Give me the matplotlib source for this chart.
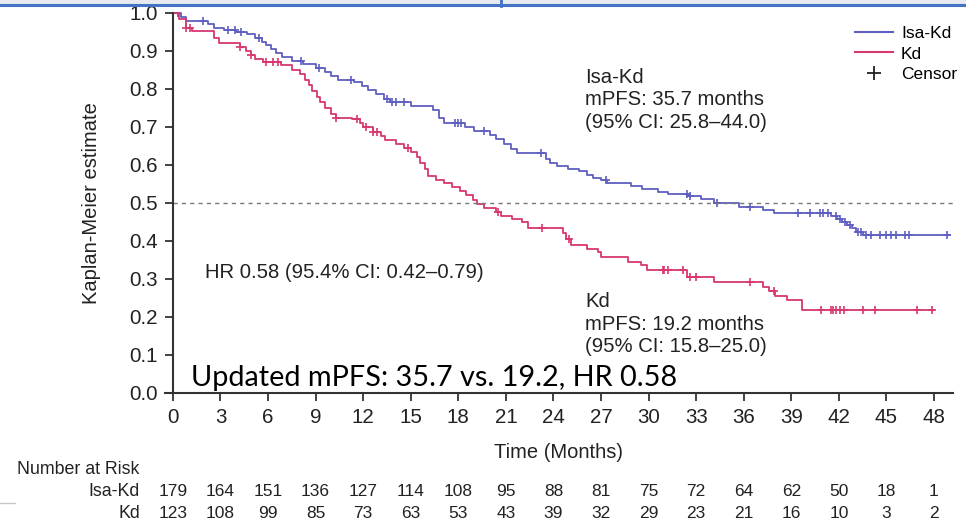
import numpy as np
import matplotlib.pyplot as plt
from matplotlib.lines import Line2D
import matplotlib.transforms as mtransforms

plt.rcParams['font.family'] = ['Liberation Sans', 'DejaVu Sans']

# Isa-Kd: step times (months) and KM estimate after each step
isa_t = [0, 0.5, 0.8, 2.2, 2.6, 3.2, 4.0, 4.7, 5.2, 5.6, 5.9, 6.2, 6.5, 6.9, 7.5, 8.2,
         9.0, 9.6, 10.0, 10.4, 11.4, 11.9, 12.3, 12.8, 13.3, 13.7, 15.0, 16.4, 16.8,
         17.1, 18.4, 19.0, 20.0, 20.4, 20.9, 21.3, 21.7, 23.5, 23.8, 24.2, 24.9, 25.6,
         26.1, 26.5, 27.0, 27.4, 28.9, 29.6, 30.6, 31.2, 32.5, 33.3, 34.1, 35.7, 37.2,
         37.9, 41.5, 41.9, 42.2, 42.5, 42.8, 43.1, 43.5]
isa_s = [1.0, 0.99, 0.98, 0.97, 0.96, 0.955, 0.95, 0.945, 0.935, 0.925, 0.915, 0.905,
         0.895, 0.885, 0.875, 0.865, 0.855, 0.845, 0.835, 0.825, 0.818, 0.808, 0.798,
         0.788, 0.775, 0.765, 0.755, 0.745, 0.725, 0.71, 0.70, 0.69, 0.68, 0.668, 0.655,
         0.643, 0.632, 0.617, 0.605, 0.597, 0.59, 0.584, 0.575, 0.567, 0.56, 0.553, 0.545,
         0.536, 0.53, 0.525, 0.518, 0.51, 0.50, 0.49, 0.482, 0.473, 0.465, 0.458, 0.45,
         0.442, 0.434, 0.425, 0.415]
isa_end = 49.0
isa_cens = [0.3, 1.9, 3.5, 3.9, 4.3, 5.4, 8.1, 9.2, 11.2, 13.5, 13.8, 14.1, 14.6, 17.8,
            18.0, 18.2, 19.6, 23.2, 27.3, 32.4, 32.6, 34.3, 36.4, 39.4, 40.2, 40.8, 41.0,
            41.3, 41.8, 42.1, 42.4, 42.7, 43.2, 43.4, 43.7, 44.0, 44.6, 45.0, 45.3, 45.6,
            46.2, 46.4, 48.8]

# Kd
kd_t = [0, 0.4, 0.8, 1.2, 2.6, 2.9, 4.2, 4.6, 4.9, 5.2, 5.7, 6.8, 7.5, 8.0, 8.3, 8.6,
        8.8, 9.1, 9.3, 9.6, 10.0, 10.3, 11.3, 11.8, 12.0, 12.6, 13.1, 13.4, 14.1, 14.6,
        15.0, 15.4, 15.6, 15.9, 16.1, 16.6, 17.1, 17.6, 18.1, 18.5, 18.9, 19.2, 19.6,
        20.4, 20.7, 21.4, 22.0, 22.4, 24.6, 24.8, 25.1, 26.1, 26.8, 27.0, 28.7, 29.5,
        29.9, 32.4, 34.1, 37.2, 37.6, 38.0, 38.7, 39.7]
kd_s = [1.0, 0.985, 0.96, 0.952, 0.935, 0.92, 0.91, 0.9, 0.89, 0.88, 0.87, 0.862, 0.85,
        0.84, 0.825, 0.81, 0.795, 0.78, 0.765, 0.75, 0.735, 0.725, 0.72, 0.71, 0.70,
        0.688, 0.676, 0.665, 0.655, 0.645, 0.635, 0.622, 0.605, 0.59, 0.572, 0.56, 0.552,
        0.542, 0.532, 0.52, 0.508, 0.497, 0.487, 0.477, 0.465, 0.458, 0.45, 0.435, 0.42,
        0.405, 0.39, 0.38, 0.37, 0.358, 0.345, 0.338, 0.324, 0.305, 0.292, 0.28, 0.268,
        0.255, 0.245, 0.218]
kd_end = 48.0
kd_cens = [0.3, 0.8, 1.1, 4.2, 4.9, 5.9, 6.3, 6.6, 10.3, 11.6, 12.2, 12.6, 12.9, 14.8,
           20.5, 23.3, 25.0, 30.9, 31.0, 31.2, 32.2, 32.6, 33.0, 36.4, 37.9, 40.9, 41.5,
           41.6, 41.8, 42.1, 42.3, 43.5, 44.3, 46.9, 47.9]

# number at risk
risk_months = list(range(0, 49, 3))
risk_isa = [179, 164, 151, 136, 127, 114, 108, 95, 88, 81, 75, 72, 64, 62, 50, 18, 1]
risk_kd = [123, 108, 99, 85, 73, 63, 53, 43, 39, 32, 29, 23, 21, 16, 10, 3, 2]

blue = '#5f5fc2'
red = '#d8376f'
txt = '#222222'


def surv_at(times, surv, x):
    idx = np.searchsorted(times, x, side='right') - 1
    return np.array(surv)[idx]


fig = plt.figure(figsize=(9.66, 5.24), dpi=100)
ax = fig.add_axes([165 / 966, 1 - 393 / 524, (953 - 165) / 966, 380 / 524])

# curves
ax.step(isa_t + [isa_end], isa_s + [isa_s[-1]], where='post', color=blue, lw=1.3, clip_on=False)
ax.step(kd_t + [kd_end], kd_s + [kd_s[-1]], where='post', color=red, lw=1.3, clip_on=False)
ax.plot(isa_cens, surv_at(isa_t, isa_s, isa_cens), '+', color=blue, ms=5.5, mew=1.2)
ax.plot(kd_cens, surv_at(kd_t, kd_s, kd_cens), '+', color=red, ms=5.5, mew=1.2)

ax.axhline(0.5, color='#777777', lw=1, ls=(0, (3, 3)), xmin=0.01)

ax.set_xlim(-0.5, 49.2)
ax.set_ylim(0, 1.0)
ax.spines['top'].set_visible(False)
ax.spines['right'].set_visible(False)
ax.spines['left'].set_position(('data', 0))
for s in ['left', 'bottom']:
    ax.spines[s].set_linewidth(1.5)
    ax.spines[s].set_color('#333333')
ax.set_xticks(risk_months)
ax.set_yticks(np.arange(0, 1.01, 0.1))
ax.set_yticklabels([f'{v:.1f}' for v in np.arange(0, 1.01, 0.1)])
ax.tick_params(direction='out', length=6, width=1.3, labelsize=14.8, color='#333333',
               labelcolor=txt, pad=5)
ax.set_xlabel('Time (Months)', fontsize=14.5, labelpad=11, color=txt)
ax.set_ylabel('Kaplan-Meier estimate', fontsize=14.5, labelpad=20, color=txt)

# annotations
ax.text(26.0, 0.855, 'Isa-Kd\nmPFS: 35.7 months\n(95% CI: 25.8–44.0)', va='top',
        fontsize=14.6, linespacing=1.22, color=txt)
ax.text(26.0, 0.265, 'Kd\nmPFS: 19.2 months\n(95% CI: 15.8–25.0)', va='top',
        fontsize=14.6, linespacing=1.22, color=txt)
ax.text(2.0, 0.316, 'HR 0.58 (95.4% CI: 0.42–0.79)', va='center', fontsize=14.6,
        color=txt)
ax.text(1.12, 0.018, 'Updated mPFS: 35.7 vs. 19.2, HR 0.58', va='baseline',
        fontsize=20.8, family=['Lato', 'DejaVu Sans'], color='black')

# legend
handles = [Line2D([], [], color=blue, lw=1.5),
           Line2D([], [], color=red, lw=1.5),
           Line2D([], [], color=txt, marker='+', ls='none', ms=10, mew=1.3)]
fig.legend(handles, ['Isa-Kd', 'Kd', 'Censor'], loc='upper left',
           bbox_to_anchor=(855 / 966, 1 - 26 / 524), frameon=False, fontsize=12.5,
           handlelength=2.2, handletextpad=0.45, labelspacing=0.3, borderpad=0,
           borderaxespad=0)

# number at risk table
trans = mtransforms.blended_transform_factory(ax.transData, fig.transFigure)
fig.text(17 / 966, 1 - 470 / 524, 'Number at Risk', fontsize=12.8, va='center', color=txt)
fig.text(140 / 966, 1 - 492 / 524, 'Isa-Kd', fontsize=12.8, va='center', ha='right', color=txt)
fig.text(140 / 966, 1 - 514 / 524, 'Kd', fontsize=12.8, va='center', ha='right', color=txt)
for m, a, b in zip(risk_months, risk_isa, risk_kd):
    ax.text(m, 1 - 492 / 524, str(a), transform=trans, ha='center', va='center',
            fontsize=12.5, color=txt)
    ax.text(m, 1 - 514 / 524, str(b), transform=trans, ha='center', va='center',
            fontsize=12.5, color=txt)

# slide decoration around the picture
fig.add_artist(plt.Rectangle((0, 1 - 4 / 524), 1, 4 / 524, transform=fig.transFigure,
                             color='#e7e9f1', zorder=5))
fig.add_artist(Line2D([0, 1], [1 - 5 / 524, 1 - 5 / 524], transform=fig.transFigure,
                      color='#4472c4', lw=2.2, zorder=6))
fig.add_artist(Line2D([501 / 966, 501 / 966], [1, 1 - 6 / 524], transform=fig.transFigure,
                      color='#4472c4', lw=2, zorder=6))
fig.add_artist(Line2D([0, 15 / 966], [1 - 503 / 524] * 2, transform=fig.transFigure,
                      color='#c8c8c8', lw=1))

fig.savefig('out.png', dpi=100)
